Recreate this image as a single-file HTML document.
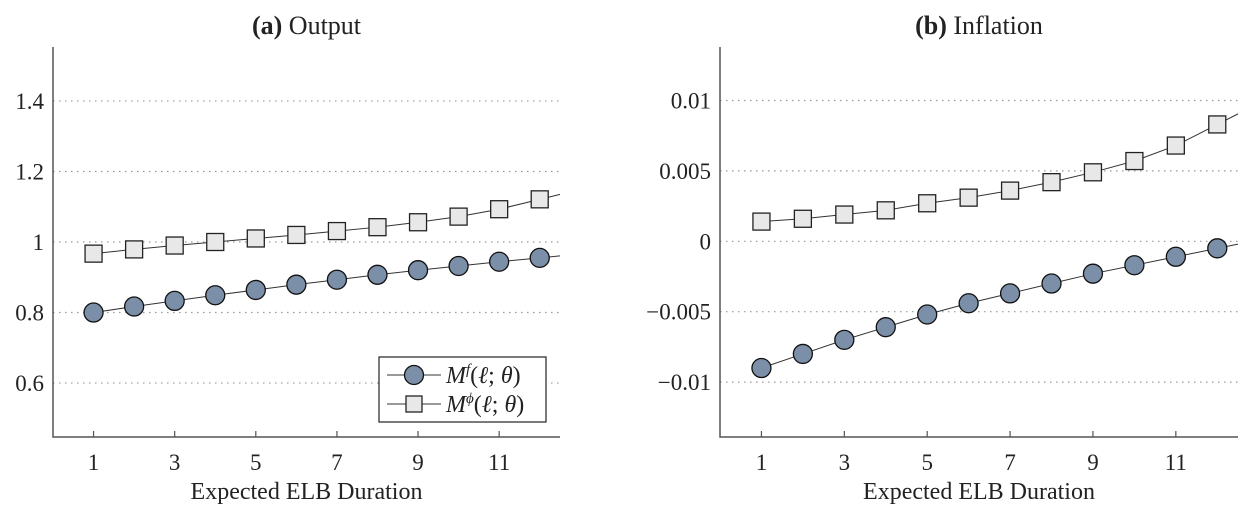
<!DOCTYPE html>
<html><head><meta charset="utf-8"><style>
body{margin:0;background:#fff;}
svg text{font-family:"Liberation Serif","DejaVu Serif",serif;fill:#222;}
</style></head><body>
<svg id="c" width="1242" height="507" xmlns="http://www.w3.org/2000/svg"></svg>
<script>
const durations=[1,2,3,4,5,6,7,8,9,10,11,12];
const outputF=[0.800,0.817,0.833,0.849,0.864,0.879,0.893,0.907,0.920,0.932,0.944,0.955];
const outputPhi=[0.967,0.979,0.990,1.000,1.010,1.020,1.031,1.042,1.056,1.072,1.093,1.121];
const inflF=[-0.0090,-0.0080,-0.0070,-0.0061,-0.0052,-0.0044,-0.0037,-0.0030,-0.0023,-0.0017,-0.0011,-0.0005];
const inflPhi=[0.0014,0.0016,0.0019,0.0022,0.0027,0.0031,0.0036,0.0042,0.0049,0.0057,0.0068,0.0083];
const xTicks=[1,3,5,7,9,11];
const outYTicks=[0.6,0.8,1,1.2,1.4];
const outYLabels=["0.6","0.8","1","1.2","1.4"];
const infYTicks=[-0.01,-0.005,0,0.005,0.01];
const infYLabels=["\u22120.01","\u22120.005","0","0.005","0.01"];

const NS="http://www.w3.org/2000/svg";
const svg=document.getElementById('c');
function mk(tag,attrs,parent){const e=document.createElementNS(NS,tag);for(const k in attrs)e.setAttribute(k,attrs[k]);(parent||svg).appendChild(e);return e;}

function panel(o){
  const g=mk('g',{});
  
  
  const xs=v=>o.x0+(v-0)/(12.5-0)*(o.x1-o.x0);
  const ys=v=>o.y1-(v-o.ymin)/(o.ymax-o.ymin)*(o.y1-o.y0);
  o.yt.forEach((v,i)=>{
    const l=mk('line',{x1:o.x0,x2:o.x1,y1:ys(v),y2:ys(v),stroke:'#999','stroke-width':1.2,'stroke-dasharray':'1.5 4.5'},g);
    
    
    const t=mk('text',{x:o.x0-9,y:ys(v)+8,'font-size':23,'text-anchor':'end'},g);
    t.textContent=o.yl[i];
    
    
  });
  const ax=mk('path',{d:`M${o.x0},${o.y0}V${o.y1}H${o.x1}`,fill:'none',stroke:'#555','stroke-width':1.5},g);
  
  
  xTicks.forEach(v=>{
    mk('line',{x1:xs(v),x2:xs(v),y1:o.y1,y2:o.y1-6,stroke:'#555','stroke-width':1.2},g);
    const t=mk('text',{x:xs(v),y:o.y1+33,'font-size':23,'text-anchor':'middle'},g);
    t.textContent=v;
    
    
  });
  const xl=mk('text',{x:(o.x0+o.x1)/2,y:499,'font-size':24,'text-anchor':'middle'},g);
  xl.textContent='Expected ELB Duration';
  
  
  const tt=mk('text',{x:(o.x0+o.x1)/2,y:34,'font-size':26,'text-anchor':'middle'},g);
  tt.innerHTML='<tspan font-weight="bold">'+o.tag+'</tspan> '+o.title;
  
  
  [[o.sf,'circle'],[o.sp,'square']].forEach(([arr,kind])=>{
    const n=arr.length;
    const slope=(arr[n-1]-arr[n-2]);
    const endV=arr[n-1]+slope*0.5;
    let d='M'+durations.map((x,i)=>xs(x)+','+ys(arr[i])).join('L')+'L'+xs(12.5)+','+ys(endV);
    const p=mk('path',{d:d,fill:'none',stroke:'#333','stroke-width':1},g);
    
    
    durations.forEach((x,i)=>{
      let m;
      if(kind==='circle') m=mk('circle',{cx:xs(x),cy:ys(arr[i]),r:9.5,fill:'#7b8fa8',stroke:'#111','stroke-width':1.3},g);
      else m=mk('rect',{x:xs(x)-8.5,y:ys(arr[i])-8.5,width:17,height:17,fill:'#e8e8e8',stroke:'#222','stroke-width':1.3},g);
      
      
    });
  });
  return g;
}
panel({name:'panel-output',tag:'(a)',title:'Output',x0:53,x1:560,y0:47,y1:437,ymin:0.447,ymax:1.553,yt:outYTicks,yl:outYLabels,sf:outputF,sp:outputPhi});
panel({name:'panel-inflation',tag:'(b)',title:'Inflation',x0:720,x1:1238,y0:47,y1:437,ymin:-0.0139,ymax:0.0138,yt:infYTicks,yl:infYLabels,sf:inflF,sp:inflPhi});

const lg=mk('g',{});


mk('rect',{x:379,y:357,width:167,height:65,fill:'#fff',stroke:'#222','stroke-width':1.2},lg);
mk('line',{x1:387,x2:441,y1:375,y2:375,stroke:'#333','stroke-width':1},lg);
const lc=mk('circle',{cx:414,cy:375,r:9.5,fill:'#7b8fa8',stroke:'#111','stroke-width':1.3},lg);


mk('line',{x1:387,x2:441,y1:404,y2:404,stroke:'#333','stroke-width':1},lg);
const ls=mk('rect',{x:406,y:396,width:16,height:16,fill:'#e8e8e8',stroke:'#222','stroke-width':1.3},lg);


const t1=mk('text',{x:446,y:383,'font-size':24,'font-style':'italic'},lg);
t1.innerHTML='M<tspan dy="-9" font-size="15">f</tspan><tspan dy="9" font-style="normal">(</tspan>ℓ<tspan font-style="normal">;</tspan> θ<tspan font-style="normal">)</tspan>';


const t2=mk('text',{x:446,y:412,'font-size':24,'font-style':'italic'},lg);
t2.innerHTML='M<tspan dy="-9" font-size="15">ϕ</tspan><tspan dy="9" font-style="normal">(</tspan>ℓ<tspan font-style="normal">;</tspan> θ<tspan font-style="normal">)</tspan>';


</script>
</body></html>
